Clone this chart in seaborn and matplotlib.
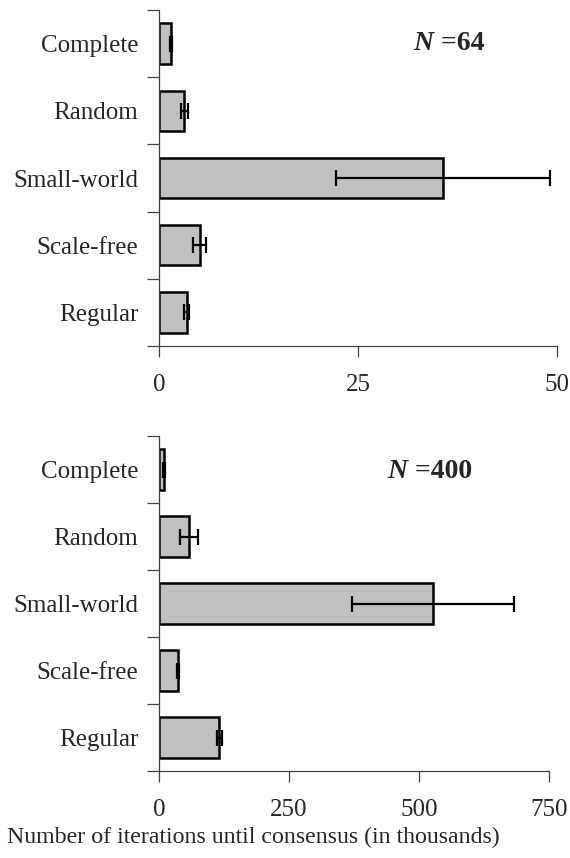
import matplotlib
matplotlib.use("Agg")
import matplotlib.pyplot as plt
import seaborn as sns
import pandas as pd

sns.set_style("white")
plt.rcParams['font.family'] = ['Liberation Serif', 'DejaVu Serif']

# network types, top to bottom
networks = ["Complete", "Random", "Small-world", "Scale-free", "Regular"]

# N = 64 (thousands of iterations)
mean_64 = [1.5, 3.2, 35.7, 5.1, 3.5]
err_64 = [0.15, 0.5, 13.4, 0.8, 0.3]

# N = 400
mean_400 = [9.6, 58, 527, 36, 116]
err_400 = [2, 17, 155, 2, 5]

fig = plt.figure(figsize=(5.7, 8.58), dpi=100)
ax_top = fig.add_axes([0.279, 0.5967, 0.698, 0.3916])
ax_bot = fig.add_axes([0.279, 0.1014, 0.684, 0.3904])


def draw_panel(ax, means, errs, xmax, xticks, label, label_x, label_y):
    df = pd.DataFrame({"network": networks, "value": means})
    sns.barplot(data=df, x="value", y="network", orient="h", ax=ax,
                color="#c0c0c0", edgecolor="black", linewidth=1.8,
                width=0.6, errorbar=None, saturation=1)
    ax.errorbar(means, range(len(networks)), xerr=errs, fmt="none",
                ecolor="black", elinewidth=1.6, capsize=5.5, capthick=1.6)

    ax.set_xlim(0, xmax)
    ax.set_ylim(len(networks) - 0.5, -0.5)
    ax.set_xticks(xticks)
    ax.set_xticklabels([str(t) for t in xticks], fontsize=18)
    ax.tick_params(axis="x", direction="out", length=8, width=0.9,
                   pad=12, bottom=True, color="#404040")

    # boundaries as major ticks, names as minor ticks
    ax.set_yticks([i - 0.5 for i in range(len(networks) + 1)])
    ax.set_yticklabels([])
    ax.set_yticks(range(len(networks)), minor=True)
    ax.set_yticklabels(networks, minor=True, fontsize=18)
    ax.tick_params(axis="y", which="major", direction="out", length=9,
                   width=0.9, left=True, color="#404040")
    ax.tick_params(axis="y", which="minor", length=0, pad=15)

    ax.set_xlabel("")
    ax.set_ylabel("")
    for side in ["top", "right"]:
        ax.spines[side].set_visible(False)
    for side in ["left", "bottom"]:
        ax.spines[side].set_color("#404040")
        ax.spines[side].set_linewidth(0.9)

    t = ax.text(label_x, label_y, "N", fontsize=20, fontweight="bold",
                fontstyle="italic", va="baseline", ha="left")
    ax.annotate(" =" + label, xy=(1, 0), xycoords=t, va="bottom",
                ha="left", fontsize=20, fontweight="bold")


draw_panel(ax_top, mean_64, err_64, 50, [0, 25, 50], "64", 32, 0.1)
draw_panel(ax_bot, mean_400, err_400, 750, [0, 250, 500, 750], "400", 440, 0.13)

fig.text(0.445, 0.0235, "Number of iterations until consensus (in thousands)",
         fontsize=17.2, ha="center", va="center")

fig.savefig("out.png", dpi=100)
